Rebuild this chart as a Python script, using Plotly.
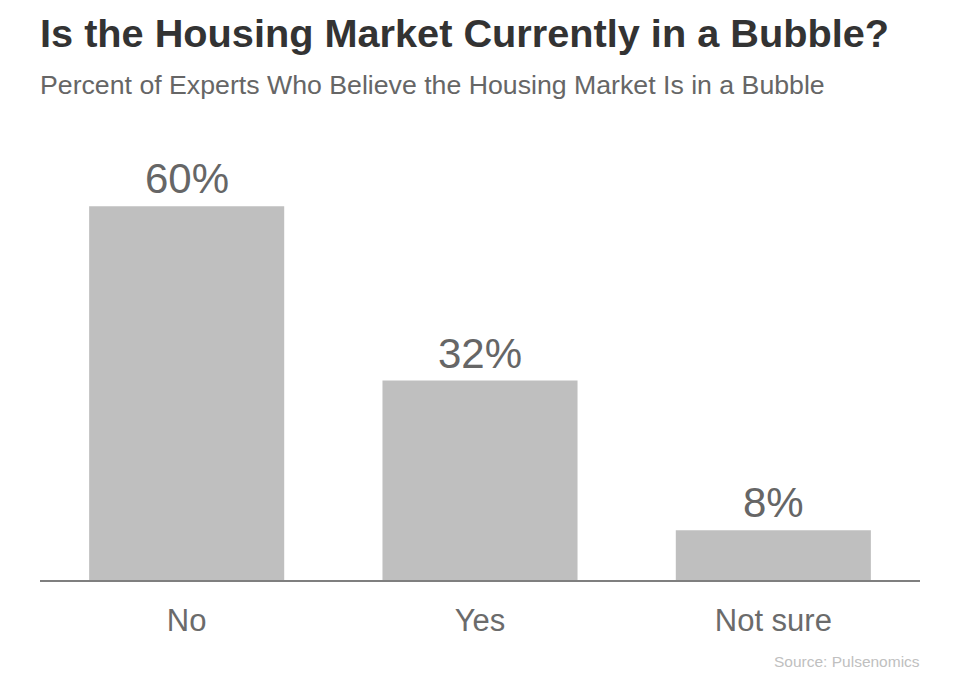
import plotly.graph_objects as go

categories = ["No", "Yes", "Not sure"]
values = [60, 32, 8]
value_labels = ["60%", "32%", "8%"]

title_text = "Is the Housing Market Currently in a Bubble?"
subtitle_text = "Percent of Experts Who Believe the Housing Market Is in a Bubble"
source_text = "Source: Pulsenomics"

FONT = "Liberation Sans, Arial, sans-serif"

fig = go.Figure()
fig.add_trace(go.Bar(
    x=categories, y=values,
    marker=dict(color="#bfbfbf", line=dict(width=0)),
    hoverinfo="skip",
))

annotations = []
for c, v, t in zip(categories, values, value_labels):
    annotations.append(dict(
        x=c, y=v, xref="x", yref="y", text=t, showarrow=False,
        yanchor="bottom", yshift=2,
        font=dict(family=FONT, size=42, color="#666666"),
    ))

annotations.append(dict(
    x=0, y=1.3506, xref="paper", yref="paper", text="<b>" + title_text + "</b>",
    showarrow=False, xanchor="left", yanchor="middle", xshift=-2,
    font=dict(family=FONT, size=39.7, color="#333333"),
))
annotations.append(dict(
    x=0, y=1.2222, xref="paper", yref="paper", text=subtitle_text,
    showarrow=False, xanchor="left", yanchor="middle", xshift=-2,
    font=dict(family=FONT, size=26.7, color="#666666"),
))
annotations.append(dict(
    x=1, y=-0.2, xref="paper", yref="paper", text=source_text,
    showarrow=False, xanchor="right", yanchor="middle", xshift=2,
    font=dict(family=FONT, size=15.5, color="#c0c0c0"),
))

fig.update_layout(
    width=960, height=688,
    margin=dict(l=32, r=48, t=167, b=116),
    paper_bgcolor="white", plot_bgcolor="white",
    bargap=0.335,
    showlegend=False,
    annotations=annotations,
    xaxis=dict(
        showline=True, linecolor="#7f7f7f", linewidth=1.5,
        ticks="", showgrid=False, zeroline=False,
        tickfont=dict(family=FONT, size=31, color="#6b6b6b"),
        ticklabelstandoff=12,
    ),
    yaxis=dict(
        range=[0, 65], visible=False, showgrid=False, zeroline=False,
    ),
)

fig.write_html("out.html")
